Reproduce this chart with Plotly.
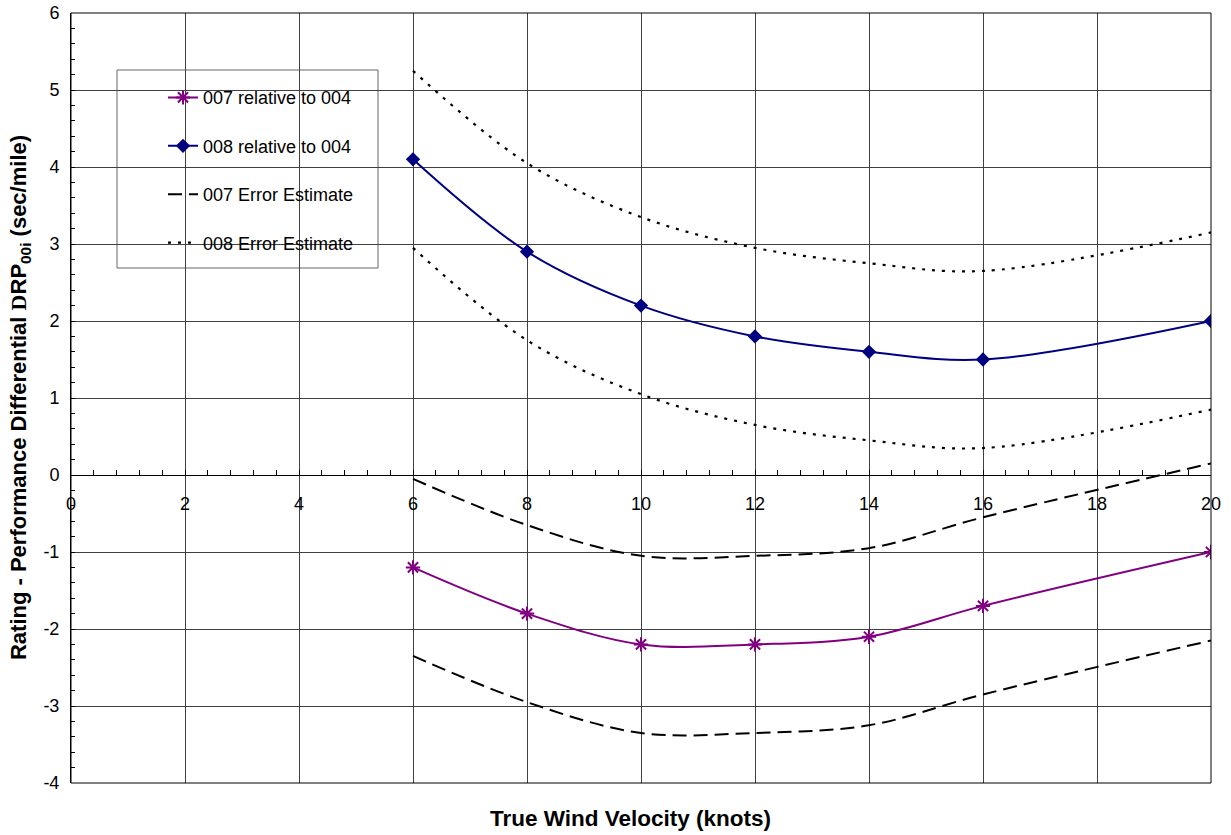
import plotly.graph_objects as go

# Wind speeds (knots) at which the differentials were evaluated
wind = [6, 8, 10, 12, 14, 16, 20]

# Rating - performance differential (sec/mile)
diff_007 = [-1.2, -1.8, -2.2, -2.2, -2.1, -1.7, -1.0]
diff_008 = [4.1, 2.9, 2.2, 1.8, 1.6, 1.5, 2.0]

# Error-estimate envelopes
err007_upper = [-0.05, -0.65, -1.05, -1.05, -0.95, -0.55, 0.15]
err007_lower = [-2.35, -2.95, -3.35, -3.35, -3.25, -2.85, -2.15]
err008_upper = [5.25, 4.05, 3.35, 2.95, 2.75, 2.65, 3.15]
err008_lower = [2.95, 1.75, 1.05, 0.65, 0.45, 0.35, 0.85]

x_ticks = [0, 2, 4, 6, 8, 10, 12, 14, 16, 18, 20]
y_ticks = [-4, -3, -2, -1, 0, 1, 2, 3, 4, 5, 6]

FONT = "Liberation Sans, Arial, sans-serif"
PURPLE = "#800080"
NAVY = "#000080"

fig = go.Figure()

fig.add_trace(go.Scatter(
    x=wind, y=diff_007, name="007 relative to 004", mode="lines+markers",
    line=dict(color=PURPLE, width=2, shape="spline", smoothing=1),
    marker=dict(symbol="asterisk", size=12, color=PURPLE,
                line=dict(color=PURPLE, width=2)),
    legendgroup="a",
))
fig.add_trace(go.Scatter(
    x=wind, y=diff_008, name="008 relative to 004", mode="lines+markers",
    line=dict(color=NAVY, width=2, shape="spline", smoothing=1),
    marker=dict(symbol="diamond", size=11, color=NAVY),
    legendgroup="b",
))
fig.add_trace(go.Scatter(
    x=wind + [None] + wind, y=err007_upper + [None] + err007_lower,
    name="007 Error Estimate", mode="lines",
    line=dict(color="black", width=2, dash="14px,7px", shape="spline", smoothing=1),
    legendgroup="c",
))
fig.add_trace(go.Scatter(
    x=wind + [None] + wind, y=err008_upper + [None] + err008_lower,
    name="008 Error Estimate", mode="lines",
    line=dict(color="black", width=2.2, dash="3px,7px", shape="spline", smoothing=1),
    legendgroup="d",
))

GRID = "#404040"

fig.update_layout(
    width=1231, height=835,
    margin=dict(l=71, r=20, t=13, b=52),
    paper_bgcolor="white", plot_bgcolor="white",
    font=dict(family=FONT, size=18, color="black"),
    showlegend=True,
    legend=dict(
        x=0.0807, y=0.914, xanchor="left", yanchor="top",
        bgcolor="rgba(0,0,0,0)", borderwidth=0,
        font=dict(family=FONT, size=18, color="black"),
        traceorder="grouped", tracegroupgap=22,
    ),
    xaxis=dict(
        range=[0, 20], tickvals=x_ticks, ticktext=[str(v) for v in x_ticks],
        anchor="free", position=0.4, automargin=False,
        showline=True, linecolor="black", linewidth=1,
        showgrid=True, gridcolor=GRID, gridwidth=1, zeroline=False,
        ticks="inside", ticklen=5, tickcolor="black",
        minor=dict(dtick=0.4, ticks="inside", ticklen=5, tickcolor="black",
                   showgrid=False),
        ticklabelstandoff=12,
        tickfont=dict(family=FONT, size=18, color="black"),
    ),
    yaxis=dict(
        range=[-4, 6], tickvals=y_ticks, ticktext=[str(v) for v in y_ticks],
        automargin=False,
        showline=True, linecolor="black", linewidth=1,
        showgrid=True, gridcolor=GRID, gridwidth=1, zeroline=False,
        ticks="inside", ticklen=4, tickcolor="black",
        minor=dict(dtick=0.2, ticks="inside", ticklen=4, tickcolor="black",
                   showgrid=False),
        ticklabelstandoff=7,
        tickfont=dict(family=FONT, size=18, color="black"),
    ),
)

# Plot-area frame and legend box
fig.add_shape(type="rect", xref="x domain", yref="y domain", x0=0, y0=0, x1=1, y1=1,
              line=dict(color="black", width=1), fillcolor="rgba(0,0,0,0)", layer="above")
fig.add_shape(type="rect", xref="paper", yref="paper",
              x0=(117 - 71) / 1140, x1=(378 - 71) / 1140,
              y0=(783 - 268) / 770, y1=(783 - 70) / 770,
              line=dict(color="#666666", width=1), fillcolor="white", layer="between")

# Axis titles
fig.add_annotation(
    text="<b>True Wind Velocity (knots)</b>", xref="paper", yref="paper",
    x=0.4912, y=-0.0455, xanchor="center", yanchor="middle", showarrow=False,
    font=dict(family=FONT, size=22.5, color="black"),
)
fig.add_annotation(
    text=("<b>Rating - Performance Differential "
          "<span style='font-family:Liberation Serif'>D</span>RP<sub>00i</sub> (sec/mile)</b>"),
    xref="paper", yref="paper", x=-0.0447, y=0.5, xanchor="center", yanchor="middle",
    textangle=-90, showarrow=False,
    font=dict(family=FONT, size=22, color="black"),
)

fig.write_html("out.html")
